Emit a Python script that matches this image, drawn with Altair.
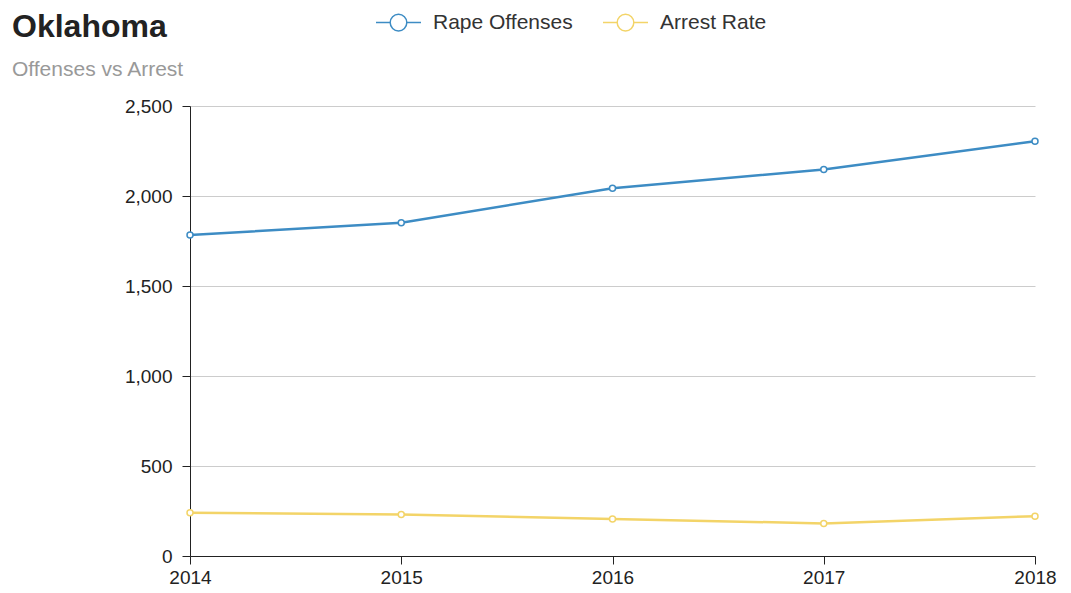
import altair as alt
import pandas as pd

years = ["2014", "2015", "2016", "2017", "2018"]
rape_offenses = [1783, 1852, 2043, 2147, 2304]
arrest_rate = [240, 230, 206, 181, 221]
series_names = ["Rape Offenses", "Arrest Rate"]
series_colors = ["#3d8cc4", "#f3d468"]

rows = []
for i, y in enumerate(years):
    rows.append({"year": y, "series": series_names[0], "value": rape_offenses[i]})
    rows.append({"year": y, "series": series_names[1], "value": arrest_rate[i]})
df = pd.DataFrame(rows)

FONT = "Liberation Sans"
sym = "M-1,0L-0.37,0M0.37,0L1,0M0.37,0A0.37,0.37,0,1,1,-0.37,0A0.37,0.37,0,1,1,0.37,0Z"

color = alt.Color(
    "series:N",
    scale=alt.Scale(domain=series_names, range=series_colors),
    sort=series_names,
    legend=alt.Legend(
        title=None,
        orient="none",
        direction="horizontal",
        legendX=185,
        legendY=-107,
        symbolType=sym,
        symbolSize=2025,
        symbolStrokeWidth=1.5,
        symbolFillColor="white",
        labelFontSize=21,
        labelFont=FONT,
        labelColor="#333333",
        labelOffset=11,
        columnPadding=27,
        padding=0,
    ),
)

x = alt.X(
    "year:O",
    sort=years,
    scale=alt.Scale(type="point", padding=0),
    axis=alt.Axis(
        title=None,
        labelAngle=0,
        grid=False,
        domainColor="#222222",
        tickColor="#222222",
        tickSize=8,
        labelPadding=4,
        labelFontSize=19,
        labelFont=FONT,
        labelColor="#222222",
    ),
)
y = alt.Y(
    "value:Q",
    scale=alt.Scale(domain=[0, 2500], nice=False),
    axis=alt.Axis(
        title=None,
        values=[0, 500, 1000, 1500, 2000, 2500],
        format=",d",
        grid=True,
        gridColor="#cccccc",
        domainColor="#222222",
        tickColor="#222222",
        tickSize=8,
        labelPadding=10,
        labelFontSize=19,
        labelFont=FONT,
        labelColor="#222222",
    ),
)

base = alt.Chart(df)
lines = base.mark_line(strokeWidth=2.5).encode(x=x, y=y, color=color)
points = base.mark_point(filled=False, fill="white", size=36, strokeWidth=1.5, opacity=1).encode(
    x=x, y=y, color=alt.Color("series:N", scale=alt.Scale(domain=series_names, range=series_colors), legend=None)
)

chart = (
    alt.layer(lines, points)
    .properties(
        width=845,
        height=450,
        autosize=alt.AutoSizeParams(type="none"),
        padding={"left": 190, "top": 106, "right": 36, "bottom": 37},
        title=alt.TitleParams(
            text="Oklahoma",
            subtitle="Offenses vs Arrest",
            anchor="start",
            frame="group",
            dx=-178,
            dy=92,
            font=FONT,
            fontSize=32,
            fontWeight="bold",
            color="#222222",
            subtitleFont=FONT,
            subtitleFontSize=21,
            subtitleColor="#999999",
            subtitlePadding=15,
            offset=10,
        ),
    )
    .configure_view(stroke=None)
)

chart.save("out.html", embed_options={"renderer": "svg", "actions": False})
